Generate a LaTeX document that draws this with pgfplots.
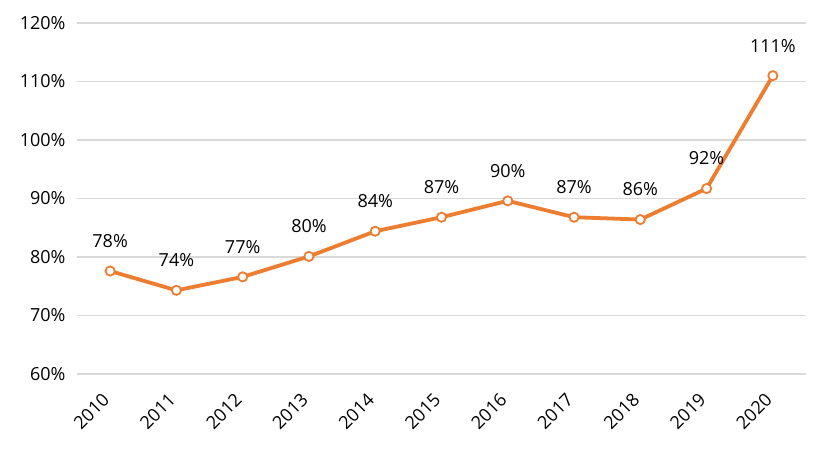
\documentclass[border=0pt]{standalone}
\usepackage{pgfplots}
\pgfplotsset{compat=1.18}
\usepackage{fontspec}
\setmainfont{Open Sans}
\definecolor{lineorange}{HTML}{ED7D31}
\definecolor{gridgray}{HTML}{D9D9D9}

\begin{document}
\begin{tikzpicture}
\begin{axis}[
    scale only axis,
    width=729pt,
    height=351pt,
    xmin=-0.5, xmax=10.5,
    ymin=60, ymax=120,
    ytick={60,70,...,120},
    xtick={0,...,10},
    xticklabels={2010,2011,2012,2013,2014,2015,2016,2017,2018,2019,2020},
    axis line style={draw=none},
    tick style={draw=none},
    ymajorgrids,
    grid style={gridgray, line width=1.3pt},
    yticklabel={\pgfmathprintnumber{\tick}\%},
    /pgf/number format/assume math mode=true,
    ticklabel style={font=\fontsize{18}{21}\selectfont, text=black},
    yticklabel style={xshift=-8pt},
    xticklabel style={xshift=-9pt, yshift=-13pt, rotate=45, anchor=north east},
    nodes near coords={\pgfmathprintnumber[fixed,precision=0]{\pgfplotspointmeta}\%},
    every node near coord/.append style={font=\fontsize{18}{21}\selectfont, text=black, anchor=center, yshift=30pt},
]
\addplot[lineorange, line width=3.8pt, mark=*, mark size=4.6pt,
    mark options={fill=white, draw=lineorange, line width=1.8pt}]
  coordinates {
    (0,77.6) (1,74.3) (2,76.6) (3,80.1) (4,84.4) (5,86.8)
    (6,89.6) (7,86.8) (8,86.4) (9,91.7) (10,111.0)
  };
\end{axis}
\useasboundingbox (-77pt,-83pt) rectangle (754pt,374pt);
\end{tikzpicture}
\end{document}
